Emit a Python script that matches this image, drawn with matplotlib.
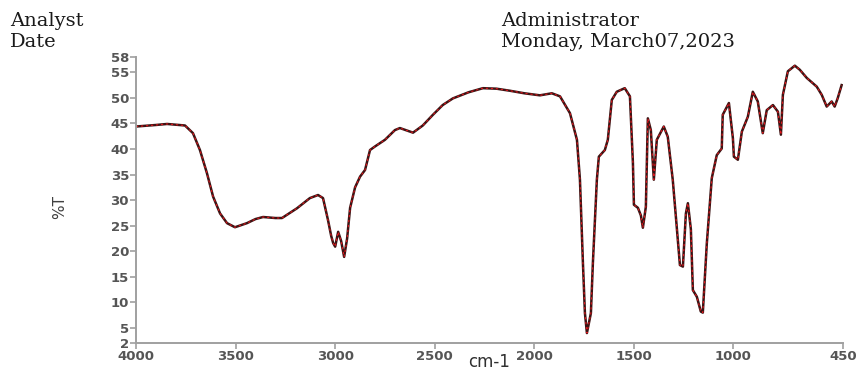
import matplotlib.pyplot as plt

# Wavenumbers (cm-1) and transmittance (%T)
wavenumber = [4000, 3900, 3844, 3754, 3714, 3679, 3644, 3613, 3578, 3543,
              3503, 3443, 3400, 3362, 3300, 3267, 3192, 3127, 3086, 3061,
              3036, 3020, 3010, 3000, 2985, 2970, 2955, 2940, 2925, 2900,
              2875, 2850, 2825, 2800, 2750, 2700, 2675, 2609, 2560, 2509,
              2460, 2409, 2330, 2258, 2190, 2123, 2050, 1972, 1912, 1871,
              1821, 1786, 1771, 1756, 1746, 1736, 1716, 1706, 1686, 1676,
              1646, 1631, 1611, 1586, 1546, 1520, 1505, 1500, 1480, 1465,
              1455, 1440, 1430, 1415, 1400, 1385, 1350, 1330, 1305, 1284,
              1269, 1254, 1239, 1229, 1214, 1204, 1184, 1164, 1154, 1134,
              1109, 1084, 1059, 1054, 1023, 1003, 998, 978, 958, 928,
              903, 878, 853, 833, 802, 777, 762, 752, 727, 692,
              667, 632, 582, 557, 532, 507, 492, 477, 457]
transmittance = [44.4, 44.7, 44.9, 44.6, 43.1, 39.8, 35.3, 30.7, 27.4, 25.5,
                 24.7, 25.5, 26.3, 26.7, 26.5, 26.5, 28.4, 30.4, 31.0, 30.4,
                 26.1, 23.0, 21.6, 20.9, 23.8, 22.0, 18.9, 22.5, 28.5, 32.5,
                 34.6, 35.9, 39.8, 40.5, 41.8, 43.7, 44.1, 43.2, 44.6, 46.7,
                 48.6, 49.9, 51.1, 51.9, 51.8, 51.4, 50.9, 50.5, 50.9, 50.3,
                 47.0, 41.8, 34.0, 17.7, 7.9, 4.0, 7.9, 17.7, 34.0, 38.5,
                 39.8, 41.8, 49.6, 51.2, 51.9, 50.3, 37.3, 29.1, 28.5, 27.0,
                 24.6, 28.7, 46.0, 43.7, 34.0, 41.8, 44.4, 42.4, 34.0, 24.3,
                 17.3, 17.0, 27.4, 29.4, 24.3, 12.4, 11.1, 8.2, 8.0, 21.5,
                 34.3, 38.8, 40.1, 46.7, 49.0, 42.1, 38.5, 37.9, 43.4, 46.3,
                 51.2, 49.3, 43.1, 47.6, 48.6, 47.3, 42.8, 50.6, 55.2, 56.3,
                 55.5, 53.9, 52.2, 50.6, 48.3, 49.3, 48.3, 49.9, 52.5]

x_ticks = [4000, 3500, 3000, 2500, 2000, 1500, 1000, 450]
y_ticks = [2, 5, 10, 15, 20, 25, 30, 35, 40, 45, 50, 55, 58]

fig = plt.figure(figsize=(8.57, 3.71), dpi=100)
ax = fig.add_axes([0.1587, 0.0747, 0.825, 0.7717])

# dark trace with a red dashed overlay, like the scanned instrument print
ax.plot(wavenumber, transmittance, color='#3b1414', lw=1.8)
ax.plot(wavenumber, transmittance, color='#e3161c', lw=0.8, dashes=(2, 2.5))

ax.set_xlim(4000, 450)
ax.set_ylim(2, 58)
ax.set_xticks(x_ticks)
ax.set_yticks(y_ticks)

for side in ['top', 'right']:
    ax.spines[side].set_visible(False)
for side in ['left', 'bottom']:
    ax.spines[side].set_color('#a0a0a0')
    ax.spines[side].set_linewidth(1.4)

ax.tick_params(colors='#a0a0a0', labelcolor='#555555', length=4, width=1.2,
               pad=1, labelsize=9.5)
for lbl in ax.get_xticklabels() + ax.get_yticklabels():
    lbl.set_family('DejaVu Sans')
    lbl.set_fontweight('bold')

# axis titles placed in figure pixels so nothing is clipped
fig.text(489 / 857, 1 - 367 / 371, "cm-1", family='DejaVu Sans', fontsize=12,
         color='#303030', ha='center', va='baseline')
fig.text(60 / 857, 1 - 207 / 371, "%T", family='DejaVu Sans', fontsize=11,
         color='#404040', ha='center', va='center', rotation=90)

# header text block
hdr = dict(family='DejaVu Serif', fontsize=14, color='#1a1a1a', va='baseline')
fig.text(10 / 857, 1 - 26 / 371, "Analyst", **hdr)
fig.text(10 / 857, 1 - 47 / 371, "Date", **hdr)
fig.text(501 / 857, 1 - 26 / 371, "Administrator", **hdr)
fig.text(501 / 857, 1 - 47 / 371, "Monday, March07,2023", **hdr)

fig.savefig("out.png", dpi=100)
plt.close()
